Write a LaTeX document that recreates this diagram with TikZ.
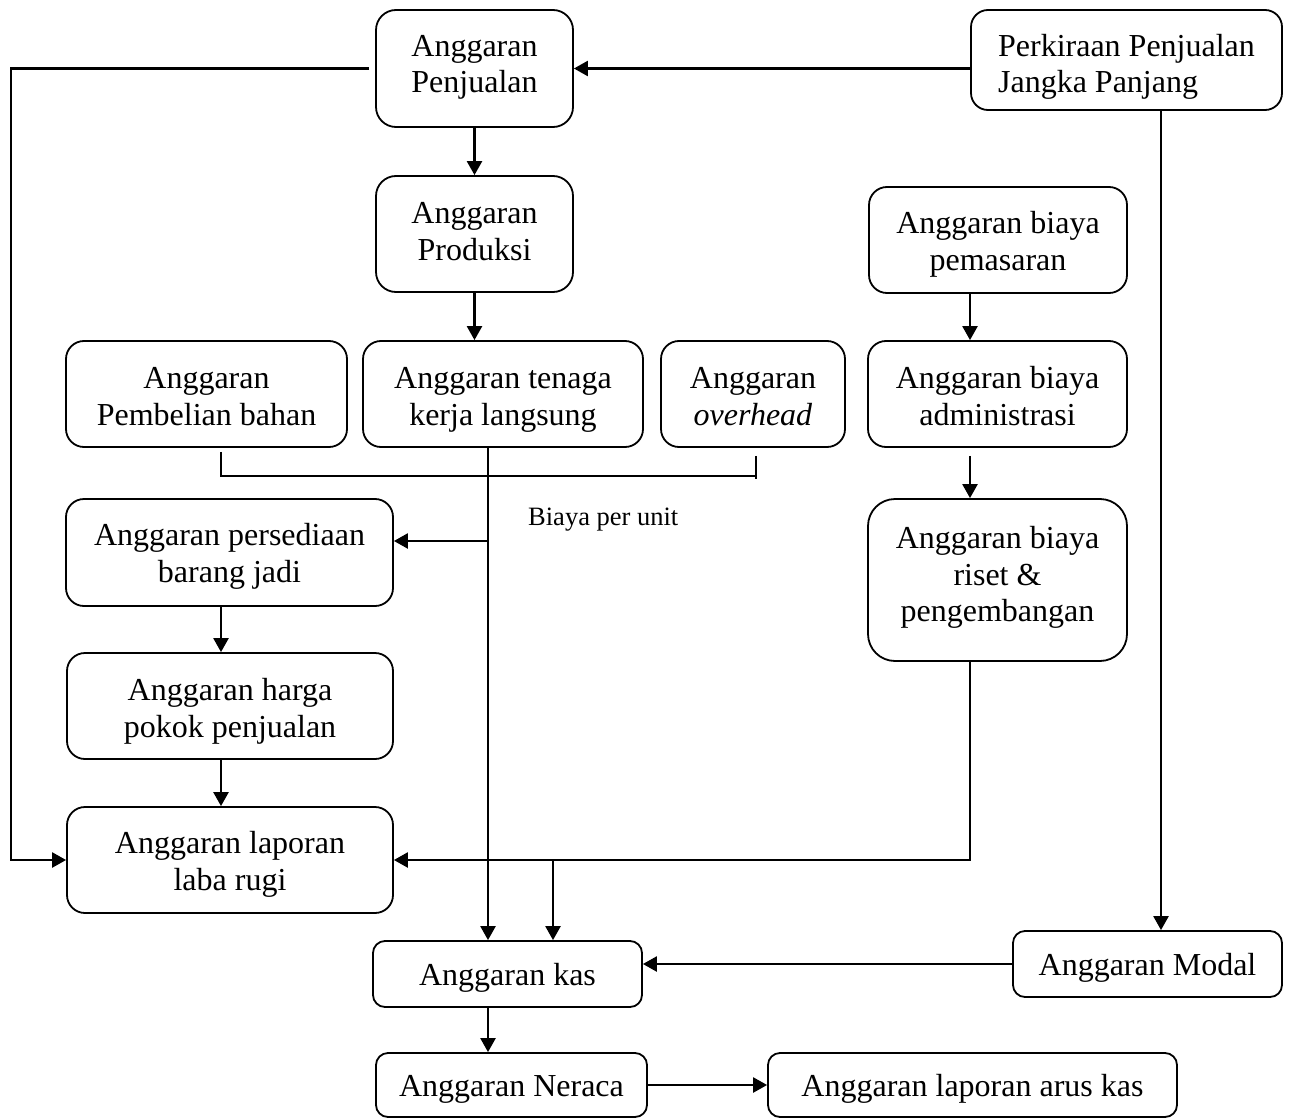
\documentclass[tikz,border=0pt]{standalone}
\usepackage{fontspec}
\setmainfont{Liberation Serif}
\usetikzlibrary{arrows.meta}
\begin{document}
\begin{tikzpicture}[x=1pt,y=-1pt,
  box/.style={draw, line width=1.8pt, align=center, inner sep=0pt,
              font=\fontsize{32}{36.5}\selectfont,
              text height=30pt, text depth=7pt},
  ht/.style={text height=#1},
  arr/.style={line width=2.4pt, -{Triangle[length=14pt,width=15pt]}},
  bracketline/.style={line width=1.6pt}]
\useasboundingbox (0,0) rectangle (1290,1118);

% budget boxes
\node[box, ht=56pt, minimum width=197pt, minimum height=117pt, rounded corners=20pt] (pj) at (474.5,68.5) {Anggaran\\Penjualan};
\node[box, ht=73pt, minimum width=311pt, minimum height=100pt, rounded corners=17pt, align=left] (pk) at (1126.5,60) {Perkiraan Penjualan\\Jangka Panjang};
\node[box, ht=59pt, minimum width=197pt, minimum height=116pt, rounded corners=20pt] (pr) at (474.5,234) {Anggaran\\Produksi};
\node[box, ht=67pt, minimum width=258pt, minimum height=106pt, rounded corners=18pt] (pm) at (998,240) {Anggaran biaya\\pemasaran};
\node[box, ht=69pt, minimum width=281pt, minimum height=106pt, rounded corners=18pt] (pb) at (206.5,394) {Anggaran\\Pembelian bahan};
\node[box, ht=69pt, minimum width=280pt, minimum height=106pt, rounded corners=18pt] (tk) at (503,394) {Anggaran tenaga\\kerja langsung};
\node[box, ht=69pt, minimum width=184pt, minimum height=106pt, rounded corners=18pt] (ov) at (753,394) {Anggaran\\\textit{overhead}};
\node[box, ht=69pt, minimum width=259pt, minimum height=106pt, rounded corners=18pt] (ad) at (997.5,394) {Anggaran biaya\\administrasi};
\node[box, ht=66pt, minimum width=327pt, minimum height=107pt, rounded corners=18pt] (ps) at (229.5,552.5) {Anggaran persediaan\\barang jadi};
\node[box, ht=90pt, minimum width=259pt, minimum height=162pt, rounded corners=27pt] (rs) at (997.5,580) {Anggaran biaya\\riset \&\\pengembangan};
\node[box, ht=69pt, minimum width=326pt, minimum height=106pt, rounded corners=18pt] (hp) at (230,706) {Anggaran harga\\pokok penjualan};
\node[box, ht=67pt, minimum width=326pt, minimum height=106pt, rounded corners=18pt] (lr) at (230,860) {Anggaran laporan\\laba rugi};
\node[box, minimum width=269pt, minimum height=66pt, rounded corners=12pt] (ks) at (507.5,974) {Anggaran kas};
\node[box, minimum width=269pt, minimum height=66pt, rounded corners=12pt] (md) at (1147.5,964) {Anggaran Modal};
\node[box, minimum width=271pt, minimum height=64pt, rounded corners=12pt] (nr) at (511.5,1085) {Anggaran Neraca};
\node[box, minimum width=409pt, minimum height=64pt, rounded corners=12pt] (ak) at (972.5,1085) {Anggaran laporan arus kas};

\node[anchor=base west, inner sep=0pt, font=\fontsize{26.5}{30}\selectfont] (bpu) at (528,525) {Biaya per unit};

% guide columns for the connector runs
\coordinate (xl) at (11,0);
\coordinate (xb) at (221,0);
\coordinate (xt) at (488,0);
\coordinate (xk) at (553,0);
\coordinate (xo) at (756,0);
\coordinate (xr) at (970,0);
\coordinate (xm) at (1161,0);
\coordinate (bt) at (488,541);

% connectors
\draw[arr] (pj.east -| pk.west) -- (pj.east);
\draw[arr] (pk.south -| xm) -- (md.north -| xm);
\draw[arr] ([xshift=-6pt]pj.west) -- (pj.west -| xl) |- (lr.west);
\draw[arr] (pj.south) -- (pr.north);
\draw[arr] (pr.south) -- (pr.south |- tk.north);
\draw[arr] (pm.south -| xr) -- (ad.north -| xr);
\draw[arr] ([yshift=-8pt]ad.south -| xr) -- (rs.north -| xr);

% cost-per-unit bracket
\draw[bracketline] ([yshift=-4pt]pb.south -| xb) -- ([yshift=-28pt]pb.south -| xb) -- ([yshift=-28pt]ov.south -| xo);
\draw[bracketline] ([yshift=-8pt]ov.south -| xo) -- ([yshift=-31pt]ov.south -| xo);

\draw[arr] (tk.south -| xt) -- (ks.north -| xt);
\draw[arr] (bt) -- (bt -| ps.east);
\draw[arr] (ps.south -| xb) -- (hp.north -| xb);
\draw[arr] (hp.south -| xb) -- (lr.north -| xb);
\draw[arr] (rs.south -| xr) |- (lr.east);
\draw[arr] (lr.east -| xk) -- (ks.north -| xk);
\draw[arr] (md.west) -- (md.west -| ks.east);
\draw[arr] (ks.south -| xt) -- (nr.north -| xt);
\draw[arr] (nr.east) -- (ak.west);
\end{tikzpicture}
\end{document}
